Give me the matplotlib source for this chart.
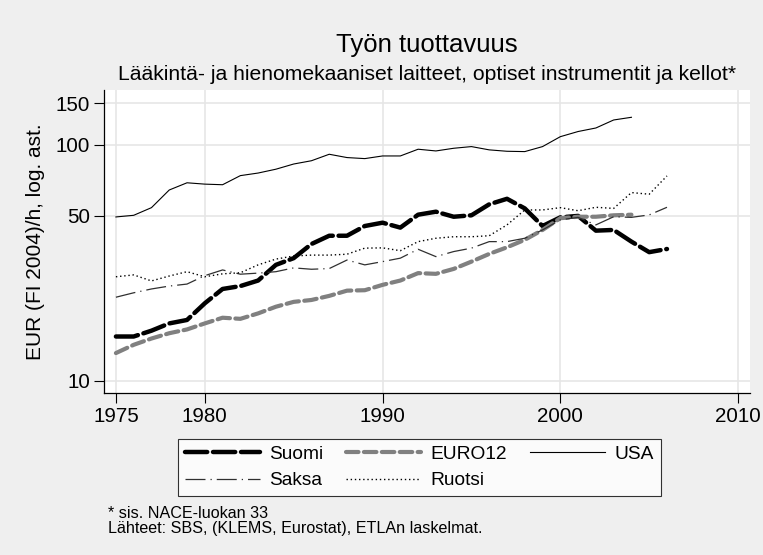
import matplotlib
matplotlib.use("Agg")
import matplotlib.pyplot as plt
from matplotlib.ticker import FixedLocator, NullLocator

plt.rcParams['font.family'] = ['Liberation Sans', 'DejaVu Sans']

years = list(range(1975, 2007))

suomi = [15.4, 15.4, 16.3, 17.5, 18.1, 21.3, 24.5, 25.2, 26.6, 31.0, 33.1, 38.0,
         41.2, 41.2, 45.3, 46.8, 44.6, 50.6, 52.1, 49.6, 50.3, 56.0, 59.1, 53.8,
         45.3, 49.3, 50.0, 43.3, 43.6, 38.9, 35.1, 36.2]
euro12 = [13.1, 14.2, 15.1, 15.9, 16.5, 17.5, 18.5, 18.3, 19.3, 20.6, 21.6, 22.0,
          22.9, 24.1, 24.2, 25.5, 26.6, 28.6, 28.4, 29.8, 32.0, 34.5, 36.8, 39.6,
          43.6, 48.9, 49.6, 49.6, 50.3, 50.6]
usa = [49.5, 50.3, 54.2, 64.4, 69.1, 68.2, 67.8, 74.1, 76.0, 78.9, 83.0, 85.7,
       91.3, 88.4, 87.5, 89.8, 89.8, 95.9, 94.3, 96.8, 98.4, 95.3, 94.0, 93.7,
       98.4, 108.4, 114.0, 118.0, 127.6, 131.0]
saksa = [22.6, 23.6, 24.5, 25.2, 25.7, 27.9, 29.5, 28.3, 28.6, 29.0, 30.1, 29.7,
         29.9, 32.5, 31.0, 32.0, 33.1, 36.1, 33.6, 35.3, 36.5, 38.9, 38.9, 40.2,
         43.6, 48.1, 49.3, 45.8, 49.6, 49.3, 50.5, 54.4]
ruotsi = [27.6, 28.1, 26.5, 27.8, 29.0, 27.6, 28.4, 28.7, 31.0, 32.8, 33.8, 34.1,
          34.1, 34.4, 36.5, 36.6, 35.6, 38.9, 40.2, 40.8, 40.8, 41.2, 45.8, 53.0,
          53.0, 54.2, 52.6, 54.4, 53.8, 62.8, 61.8, 73.9]

x_ticks = [1975, 1980, 1990, 2000, 2010]
y_ticks = [10, 50, 100, 150]

fig = plt.figure(figsize=(7.63, 5.55), dpi=100, facecolor='#efefef')
ax = fig.add_axes([104 / 763, 1 - 393 / 555, 646 / 763, 303 / 555])
ax.set_facecolor('white')

h_suomi, = ax.plot(years, suomi, color='black', lw=3.2, dashes=(5, 1.3),
                   solid_capstyle='round', dash_capstyle='round', label='Suomi')
h_euro, = ax.plot(years[:len(euro12)], euro12, color='#808080', lw=3.0,
                  dashes=(3, 1.3), dash_capstyle='round', label='EURO12')
h_usa, = ax.plot(years[:len(usa)], usa, color='black', lw=0.8, label='USA')
h_saksa, = ax.plot(years, saksa, color='#303030', lw=0.9,
                   dashes=(16, 4, 1, 4), label='Saksa')
h_ruotsi, = ax.plot(years, ruotsi, color='black', lw=1.0, dashes=(1, 2),
                    label='Ruotsi')

ax.set_yscale('log')
ax.set_ylim(8.87, 171)
ax.set_xlim(1974.33, 2010.67)
ax.yaxis.set_major_locator(FixedLocator(y_ticks))
ax.yaxis.set_minor_locator(NullLocator())
ax.set_yticklabels([str(v) for v in y_ticks])
ax.set_xticks(x_ticks)
ax.tick_params(labelsize=14.8, length=7, width=0.8, color='black', pad=3)
ax.grid(True, color='#e6e6e6', lw=1.2)
ax.set_axisbelow(True)
for s in ['top', 'right']:
    ax.spines[s].set_visible(False)
for s in ['left', 'bottom']:
    ax.spines[s].set_linewidth(0.9)
ax.set_ylabel('EUR (FI 2004)/h, log. ast.', fontsize=15, labelpad=8)

fig.text(427 / 763, 1 - 45 / 555, 'Työn tuottavuus', ha='center', va='center',
         fontsize=18.5)
fig.text(427 / 763, 1 - 74 / 555,
         'Lääkintä- ja hienomekaaniset laitteet, optiset instrumentit ja kellot*',
         ha='center', va='center', fontsize=15.2)

leg = fig.legend(handles=[h_suomi, h_saksa, h_euro, h_ruotsi, h_usa], ncol=3,
                 loc='center', bbox_to_anchor=(419.5 / 763, 1 - 467.5 / 555),
                 fontsize=13.8, frameon=True, fancybox=False, edgecolor='black',
                 handlelength=3.9, columnspacing=1.2, handletextpad=0.5,
                 borderpad=0.36, labelspacing=0.46)
leg.get_frame().set_linewidth(0.8)

fig.text(108 / 763, 1 - 514 / 555, '* sis. NACE-luokan 33', fontsize=11.6,
         va='center')
fig.text(108 / 763, 1 - 528 / 555, 'Lähteet: SBS, (KLEMS, Eurostat), ETLAn laskelmat.',
         fontsize=11.6, va='center')

fig.savefig('out.png', dpi=100, facecolor=fig.get_facecolor())
